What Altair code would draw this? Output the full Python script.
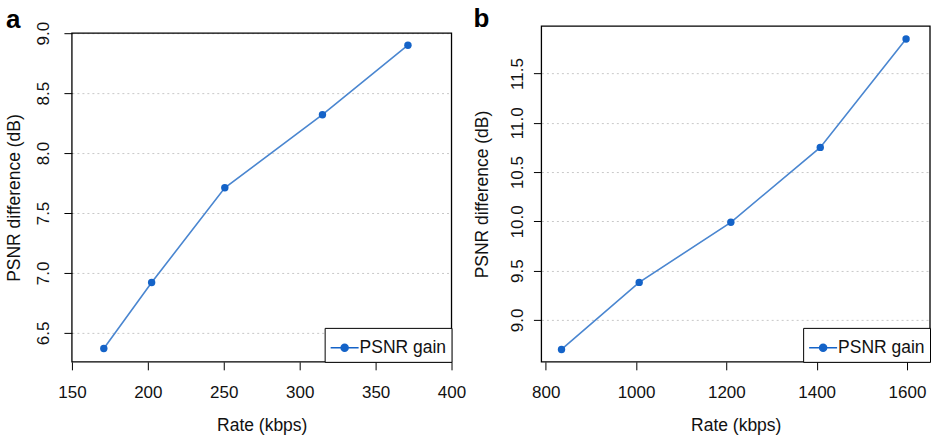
import altair as alt
import pandas as pd

# Panel a data
a_rate = [171, 202.5, 250.7, 315, 371.3]
a_psnr = [6.37, 6.92, 7.71, 8.32, 8.90]
# Panel b data
b_rate = [835, 1007, 1210, 1408, 1598]
b_psnr = [8.70, 9.38, 9.99, 10.75, 11.85]

series_name = "PSNR gain"
a_xticks = [150, 200, 250, 300, 350, 400]
a_yticks = [6.5, 7.0, 7.5, 8.0, 8.5, 9.0]
b_xticks = [800, 1000, 1200, 1400, 1600]
b_yticks = [9.0, 9.5, 10.0, 10.5, 11.0, 11.5]

FONT = "Liberation Sans"
LINE_COLOR = "#4a86d0"
DOT_COLOR = "#1463c8"
H = 336

legend_path = ("M -1 0 L 1 0 "
               "M -0.25 0 A 0.25 0.25 0 1 0 0.25 0 A 0.25 0.25 0 1 0 -0.25 0 Z")


def panel(xs, ys, xdom, ydom, xticks, yticks, label, w, top, title_offset,
          lab_pad, tit_pad):
    df = pd.DataFrame({"rate": xs, "psnr": ys, "series": [series_name] * len(xs)})
    x = alt.X("rate:Q", scale=alt.Scale(domain=xdom, nice=False, zero=False),
              axis=alt.Axis(title="Rate (kbps)", values=xticks, format="d", grid=False,
                            labelFlush=False, labelPadding=15, titlePadding=16))
    y = alt.Y("psnr:Q", scale=alt.Scale(domain=ydom, nice=False, zero=False, range=[H, top]),
              axis=alt.Axis(title="PSNR difference (dB)", values=yticks, format=".1f",
                            grid=True, gridDash=[2, 3], gridColor="#c8c8c8",
                            labelFlush=False, labelPadding=lab_pad, titlePadding=tit_pad,
                            labelAngle=270, labelAlign="center", labelBaseline="bottom"))
    frame = alt.Chart(pd.DataFrame({"k": [0]})).mark_rect(
        filled=False, stroke="black", strokeWidth=1.3
    ).encode(x=alt.value(0), x2=alt.value(w), y=alt.value(top), y2=alt.value(H))
    line = alt.Chart(df).mark_line(strokeWidth=1.6, color=LINE_COLOR).encode(x=x, y=y)
    pts = alt.Chart(df).mark_point(filled=True, size=55, opacity=1).encode(
        x=x, y=y,
        color=alt.Color("series:N",
                        scale=alt.Scale(domain=[series_name], range=[DOT_COLOR]),
                        legend=alt.Legend(title=None, orient="bottom-right", offset=0,
                                          symbolType=legend_path, symbolSize=784,
                                          symbolStrokeColor=DOT_COLOR,
                                          symbolFillColor=DOT_COLOR,
                                          symbolStrokeWidth=1.5,
                                          labelFontSize=17.5, labelFont=FONT,
                                          labelColor="#111111", labelOffset=0,
                                          padding=5, strokeColor="black",
                                          fillColor="white")))
    return alt.layer(frame, line, pts).properties(
        width=w, height=H, view=alt.ViewBackground(stroke="transparent"),
        title=alt.TitleParams(label, anchor="start", frame="bounds", fontSize=26,
                              fontWeight="bold", font=FONT, baseline="alphabetic",
                              offset=title_offset, color="black"))


pa = panel(a_rate, a_psnr, [150, 400], [6.258, 9.0], a_xticks, a_yticks, "a", 380, 7, -33,
           11, 11)
pb = panel(b_rate, b_psnr, [790.5, 1651], [8.574, 11.98], b_xticks, b_yticks, "b", 389, 0, -27,
           7, 17)

chart = alt.hconcat(pa, pb, spacing=6).resolve_scale(color="independent").resolve_legend(
    color="independent"
).properties(
    padding={"left": 5, "right": 2, "top": 4, "bottom": 1}
).configure_axis(
    labelFont=FONT, titleFont=FONT, labelFontSize=17, titleFontSize=17.5,
    labelColor="#111111", titleColor="#111111", titleFontWeight="normal",
    domain=False, tickColor="black", tickSize=8, tickWidth=1,
)

chart.save("out.html", embed_options={"renderer": "svg", "actions": False})
